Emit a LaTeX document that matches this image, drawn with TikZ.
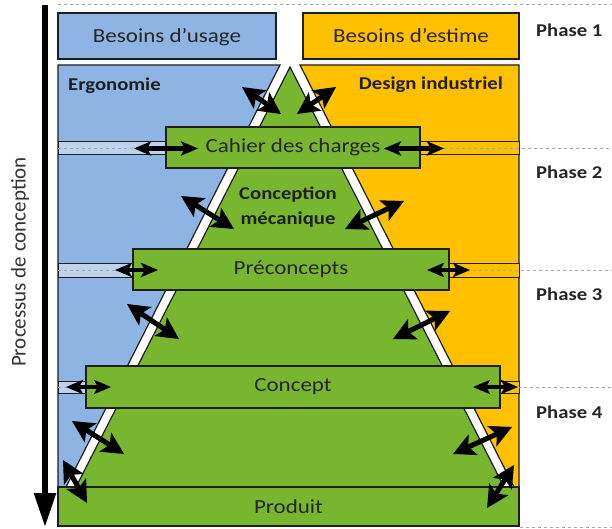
\documentclass[tikz,border=0pt]{standalone}
\usepackage{fontspec}
\setmainfont{Carlito}
\usetikzlibrary{arrows.meta,calc}
\definecolor{mygreen}{RGB}{120,182,48}
\definecolor{myblue}{RGB}{141,180,226}
\definecolor{myorange}{RGB}{255,192,0}
\definecolor{lightblue}{RGB}{190,210,238}
\definecolor{lineclr}{RGB}{30,30,30}
\newcommand{\wx}[1]{\scalebox{1.15}[1]{#1}}
% double-headed fat arrow between two named coordinates
% #1,#2 = coordinates, #3 = head side length, #4 = half angle, #5 = inset point, #6 = shaft width
\newcommand{\fatbiarrow}[6]{%
  \fill[black] (#1) -- ($(#1)!#3!#4:(#2)$) -- ($(#1)!#5!(#2)$) -- ($(#1)!#3!-#4:(#2)$) -- cycle;
  \fill[black] (#2) -- ($(#2)!#3!#4:(#1)$) -- ($(#2)!#5!(#1)$) -- ($(#2)!#3!-#4:(#1)$) -- cycle;
  \draw[black, line width=#6] ($(#1)!#5!(#2)$) -- ($(#2)!#5!(#1)$);
}
\tikzset{
  region/.style={draw=lineclr, line width=1.2pt},
  gbox/.style={draw=lineclr, line width=1.4pt, fill=mygreen, inner sep=0pt,
    font=\fontsize{20}{24}\selectfont, text=black!85},
  topbox/.style={draw=lineclr, line width=1.4pt, inner sep=0pt,
    font=\fontsize{20}{24}\selectfont, text=black!85},
  boldlbl/.style={font=\bfseries\fontsize{18}{22}\selectfont, text=black!88, inner sep=0pt},
  phaselbl/.style={font=\bfseries\fontsize{18}{22}\selectfont, text=black!85, inner sep=0pt, anchor=base west},
  band/.style={draw=lineclr, line width=1pt},
  phaseline/.style={draw=gray!70, dashed, line width=0.6pt}
}
\begin{document}
\begin{tikzpicture}[x=1pt,y=-1pt]
\useasboundingbox (0,0) rectangle (612,529);
\fill[white] (0,0) rectangle (612,529);

% top dashed line
\coordinate (t0) at (58,4);
\coordinate (t1) at (612,4);
\draw[phaseline] (t0) -- (t1);

% top boxes
\node[topbox, fill=myblue, minimum width=218pt, minimum height=46pt] (usage) at (167,36) {};
\node[topbox, fill=myorange, minimum width=216pt, minimum height=46pt] (estime) at (411,36) {};
\node[font=\fontsize{20}{24}\selectfont, text=black!85, anchor=base, inner sep=0pt] (usaget) at (167,43) {\wx{Besoins d’usage}};
\node[font=\fontsize{20}{24}\selectfont, text=black!85, anchor=base, inner sep=0pt] (estimet) at (411,43) {\wx{Besoins d’estime}};

% regions
\filldraw[region, fill=myblue] (58,65) -- (280,65) -- (66,487) -- (58,487) -- cycle;
\filldraw[region, fill=myorange] (300,65) -- (519,65) -- (519,487) -- (514,487) -- cycle;
\filldraw[region, fill=mygreen] (290,67) -- (76,487) -- (504,487) -- cycle;

% connector bands
\filldraw[band, fill=lightblue] (58,142) rectangle (166,155);
\filldraw[band, fill=myorange] (420,142) rectangle (519,155);
\filldraw[band, fill=lightblue] (58,263) rectangle (133,277);
\filldraw[band, fill=myorange] (449,263) rectangle (519,277);
\filldraw[band, fill=lightblue] (58,381) rectangle (86,393);
\filldraw[band, fill=myorange] (500,381) rectangle (519,393);

% phase dashed lines
\draw[phaseline] (58,148.5) -- (166,148.5);
\draw[phaseline] (420,148.5) -- (612,148.5);
\draw[phaseline] (58,270) -- (133,270);
\draw[phaseline] (449,270) -- (612,270);
\draw[phaseline] (58,387) -- (86,387);
\draw[phaseline] (500,387) -- (612,387);
\draw[phaseline] (520,527) -- (612,527);

% process boxes
\node[gbox, minimum width=254pt, minimum height=41pt] (cdc) at (293,147.5) {\wx{Cahier des charges}};
\node[gbox, minimum width=316pt, minimum height=41pt] (pre) at (291,269.5) {\wx{Préconcepts}};
\node[gbox, minimum width=414pt, minimum height=42pt] (con) at (293,387) {\wx{Concept}};
\node[gbox, minimum width=461pt, minimum height=39pt] (prod) at (288.5,506.5) {\wx{Produit}};

% labels
\node[boldlbl, anchor=base west] (ergo) at (68,91) {\wx{Ergonomie}};
\node[boldlbl, anchor=base east] (design) at (503,90) {\wx{Design industriel}};
\node[boldlbl, anchor=base] (cm1) at (288,200) {\wx{Conception}};
\node[boldlbl, anchor=base] (cm2) at (288,224) {\wx{mécanique}};

\node[phaselbl] (ph1) at (536,37) {\wx{Phase 1}};
\node[phaselbl] (ph2) at (536,179) {\wx{Phase 2}};
\node[phaselbl] (ph3) at (536,300) {\wx{Phase 3}};
\node[phaselbl] (ph4) at (536,418) {\wx{Phase 4}};

% left process arrow
\coordinate (pa) at (45,5);
\coordinate (pb) at (45,527);
\draw[line width=5.5pt, -{Triangle[length=34pt,width=21pt]}] (pa) -- (pb);
\node[rotate=90, font=\fontsize{21}{24}\selectfont, text=black!80, inner sep=0pt] (proc) at (20,262) {Processus de conception};

% edge arrows (left)
\coordinate (l1a) at (242,87);  \coordinate (l1b) at (281,114);
\coordinate (l2a) at (181,196); \coordinate (l2b) at (234,229);
\coordinate (l3a) at (127,304); \coordinate (l3b) at (179,339);
\coordinate (l4a) at (72,421);  \coordinate (l4b) at (124,454);
\coordinate (l5a) at (63,460);  \coordinate (l5b) at (87,503);
% edge arrows (right)
\coordinate (r1a) at (336,87);  \coordinate (r1b) at (297,114);
\coordinate (r2a) at (404,201); \coordinate (r2b) at (345,229);
\coordinate (r3a) at (450,311); \coordinate (r3b) at (393,339);
\coordinate (r4a) at (512,427); \coordinate (r4b) at (453,454);
\coordinate (r5a) at (514,465); \coordinate (r5b) at (487,508);
\foreach \a/\b in {l1a/l1b,l2a/l2b,l3a/l3b,l4a/l4b,l5a/l5b,r1a/r1b,r2a/r2b,r3a/r3b,r4a/r4b,r5a/r5b}
  {\fatbiarrow{\a}{\b}{25pt}{27}{17pt}{5pt}}

% horizontal arrows
\coordinate (hc1) at (134,148.5); \coordinate (hc2) at (198,148.5);
\coordinate (hc3) at (384,148.5); \coordinate (hc4) at (444,148.5);
\coordinate (hp1) at (115,270);   \coordinate (hp2) at (158,270);
\coordinate (hp3) at (427,270);   \coordinate (hp4) at (470,270);
\coordinate (hk1) at (66,387);    \coordinate (hk2) at (111,387);
\coordinate (hk3) at (473,387);   \coordinate (hk4) at (518,387);
\foreach \a/\b in {hc1/hc2,hc3/hc4,hp1/hp2,hp3/hp4,hk1/hk2,hk3/hk4}
  {\fatbiarrow{\a}{\b}{19pt}{23}{13pt}{4.5pt}}
\end{tikzpicture}
\end{document}
